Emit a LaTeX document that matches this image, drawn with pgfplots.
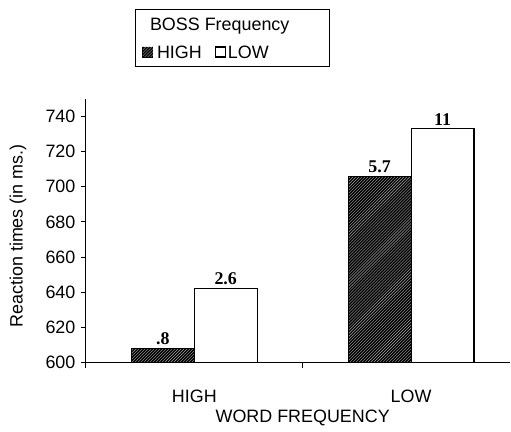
\documentclass[border=0pt]{standalone}
\usepackage{pgfplots}
\pgfplotsset{compat=1.18}
\usetikzlibrary{patterns}
\usepackage{fontspec}
\setmainfont{Liberation Sans}
\newfontfamily\barfont{Liberation Serif}

\tikzset{darkbar/.style={fill=black, postaction={pattern=north east lines, pattern color=gray!70}}}

\begin{document}
\begin{tikzpicture}[font=\fontsize{18}{21}\selectfont]
\begin{axis}[
  scale only axis, width=425bp, height=264bp,
  xmin=-0.5, xmax=1.458, ymin=600, ymax=750,
  axis x line=bottom, axis y line=left,
  axis line style={-, line width=1.2bp},
  tick align=outside, major tick length=5bp, minor tick length=5bp,
  every tick/.style={black, line width=1bp},
  xtick={0,1}, xticklabels={HIGH,LOW},
  minor xtick={-0.5,0.5},
  major x tick style={draw=none},
  xticklabel style={anchor=center, yshift=-29bp},
  ytick={600,620,...,740},
  yticklabel style={xshift=-2bp},
  /pgf/number format/assume math mode=true,
  every axis y label/.style={at={(axis description cs:0,0.48)}, xshift=-68bp, rotate=90, anchor=center},
  ylabel={Reaction times (in ms.)},
  every axis x label/.style={at={(axis cs:0.5,600)}, yshift=-55bp, anchor=center},
  xlabel={WORD FREQUENCY},
  ybar, bar width=0.29,
  point meta=explicit symbolic,
  nodes near coords,
  every node near coord/.append style={font=\barfont\bfseries\fontsize{18}{21}\selectfont, anchor=south, inner sep=3bp},
]
\addplot[darkbar, draw=black, line width=1bp, bar shift=-0.145] coordinates {(0,608) [.8] (1,706) [5.7]};
\addplot[fill=white, draw=black, line width=1.2bp, bar shift=0.145] coordinates {(0,642) [2.6] (1,733) [11]};
\coordinate (tl) at (rel axis cs:0,1);
\coordinate (bl) at (rel axis cs:0,0);
\end{axis}
% legend
\draw[line width=1bp] ([xshift=50bp,yshift=32bp]tl) rectangle ([xshift=244bp,yshift=89bp]tl);
\node[anchor=west, inner sep=0pt] at ([xshift=64bp,yshift=73bp]tl) {BOSS Frequency};
\path[darkbar, draw=black, line width=0.8bp] ([xshift=57bp,yshift=42bp]tl) rectangle ++(10bp,10bp);
\node[anchor=west, inner sep=0pt] at ([xshift=71bp,yshift=47bp]tl) {HIGH};
\draw[fill=white, line width=1.2bp] ([xshift=130bp,yshift=42bp]tl) rectangle ++(10bp,10bp);
\node[anchor=west, inner sep=0pt] at ([xshift=142bp,yshift=47bp]tl) {LOW};
% page extent
\path ([xshift=-86bp,yshift=-69bp]bl) rectangle ([xshift=425bp,yshift=99bp]tl);
\end{tikzpicture}
\end{document}
